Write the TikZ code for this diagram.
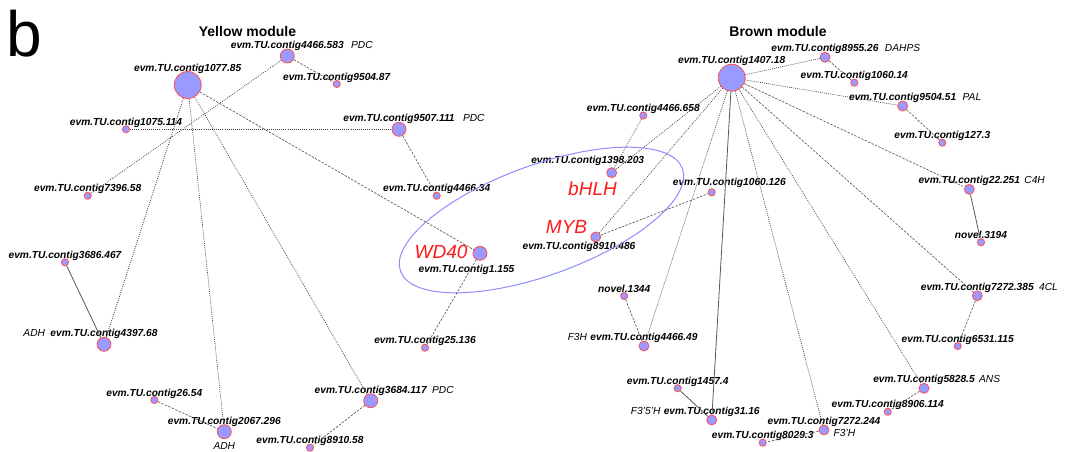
\documentclass[tikz,border=0pt]{standalone}
\usepackage{fontspec}
\setmainfont{Liberation Sans}
\usetikzlibrary{positioning}

\definecolor{nodefill}{RGB}{153,153,255}
\definecolor{noderim}{RGB}{255,80,80}
\definecolor{ringblue}{RGB}{140,140,255}
\definecolor{tfred}{RGB}{255,25,25}

\tikzset{
  gene/.style={circle, draw=noderim, fill=nodefill, line width=0.8pt, inner sep=0pt},
  gbig/.style={gene, minimum size=27pt},
  gmid/.style={gene, minimum size=14pt},
  gsml/.style={gene, minimum size=10pt},
  gtiny/.style={gene, minimum size=7.2pt},
  lbl/.style={font=\fontsize{10.2}{12}\selectfont\bfseries\itshape, inner sep=0pt, anchor=base},
  ann/.style={font=\fontsize{10.2}{12}\selectfont\itshape, inner sep=0pt},
  tf/.style={font=\fontsize{19}{22}\selectfont\itshape, text=tfred, inner sep=0pt},
  modtitle/.style={font=\fontsize{14}{16}\selectfont\bfseries, inner sep=0pt, anchor=base},
  dotlink/.style={draw=black!75, line width=0.7pt, dash pattern=on 0.9pt off 1.2pt},
  dashlink/.style={draw=black!70, line width=0.6pt, dash pattern=on 2.4pt off 1.4pt},
  solidlink/.style={draw=black!65, line width=0.8pt}
}

\begin{document}
\begin{tikzpicture}[x=1pt, y=-1pt]
	\useasboundingbox (0,0) rectangle (1074,451);
	\node[font=\fontsize{64}{70}\selectfont, inner sep=0pt, anchor=base west] (panel) at (6,56.5) {b};
	\node[modtitle] (ytitle) at (247.5,36) {Yellow module};
	\node[modtitle] (btitle) at (778,36) {Brown module};

	% yellow module
	\node[gbig, label={[lbl]above:evm.TU.contig1077.85}] (c1077) at (187.7,85) {};
	\node[gmid, label={[lbl,name=t4466a]above:evm.TU.contig4466.583}] (c4466a) at (287.3,56) {};
	\node[gtiny, label={[lbl]above:evm.TU.contig9504.87}] (c9504a) at (336.7,84) {};
	\node[gtiny, label={[lbl]above:evm.TU.contig1075.114}] (c1075) at (126,129.3) {};
	\node[gmid, label={[lbl,name=t9507]above:evm.TU.contig9507.111}] (c9507) at (399,129.3) {};
	\node[gtiny, label={[lbl]above:evm.TU.contig7396.58}] (c7396) at (87.7,195.7) {};
	\node[gtiny, label={[lbl]above:evm.TU.contig4466.34}] (c4466b) at (436.7,195.7) {};
	\node[gtiny, label={[lbl]above:evm.TU.contig3686.467}] (c3686) at (65,262.3) {};
	\node[gmid, label={[lbl,name=t4397]above:evm.TU.contig4397.68}] (c4397) at (104,344.3) {};
	\node[gtiny, label={[lbl]above:evm.TU.contig26.54}] (c26) at (154.3,400) {};
	\node[gmid, label={[lbl]above:evm.TU.contig2067.296}] (c2067) at (224.3,431.7) {};
	\node[gmid, label={[lbl,name=t3684]above:evm.TU.contig3684.117}] (c3684) at (370.7,400.7) {};
	\node[gtiny, label={[lbl]above:evm.TU.contig8910.58}] (c8910a) at (310,447.7) {};
	\node[gtiny, label={[lbl]above:evm.TU.contig25.136}] (c25) at (425,347.7) {};
	\node[gmid, label={[lbl,anchor=north,xshift=-13.5pt,yshift=-4pt]below:evm.TU.contig1.155}] (c1155) at (480,253.3) {};

	\node[ann, anchor=base west] (pdc1) at ([xshift=7pt]t4466a.base east) {PDC};
	\node[ann, anchor=base west] (pdc2) at ([xshift=8pt]t9507.base east) {PDC};
	\node[ann, anchor=base west] (pdc3) at ([xshift=5pt]t3684.base east) {PDC};
	\node[ann, anchor=base east] (adh1) at ([xshift=-5pt]t4397.base west) {ADH};
	\node[ann, anchor=north, yshift=-3.5pt] (adh2) at (c2067.south) {ADH};

	% brown module
	\node[gbig, label={[lbl]above:evm.TU.contig1407.18}] (c1407) at (731.7,77.7) {};
	\node[gsml, label={[lbl,name=t8955]above:evm.TU.contig8955.26}] (c8955) at (825,57.3) {};
	\node[gtiny, label={[lbl]above:evm.TU.contig1060.14}] (c1060a) at (854.3,82.7) {};
	\node[gsml, label={[lbl,name=t9504b]above:evm.TU.contig9504.51}] (c9504b) at (902.7,106) {};
	\node[gtiny, label={[lbl]above:evm.TU.contig127.3}] (c127) at (942.3,142.7) {};
	\node[gtiny, label={[lbl]above:evm.TU.contig4466.658}] (c4466c) at (643.3,115.5) {};
	\node[gsml, label={[lbl,xshift=-24pt,yshift=4pt]above:evm.TU.contig1398.203}] (c1398) at (611.7,172.7) {};
	\node[gtiny, label={[lbl,xshift=17.6pt,yshift=2.7pt]above:evm.TU.contig1060.126}] (c1060b) at (711.7,192.3) {};
	\node[gsml, label={[lbl,anchor=north,xshift=-16.7pt]below:evm.TU.contig8910.486}] (c8910b) at (595.7,237) {};
	\node[gtiny, label={[lbl]above:novel.1344}] (cn1344) at (624.2,296) {};
	\node[gsml, label={[lbl,name=t4466d]above:evm.TU.contig4466.49}] (c4466d) at (644,346) {};
	\node[gtiny, label={[lbl]above:evm.TU.contig1457.4}] (c1457) at (677.7,388.3) {};
	\node[gsml, label={[lbl,name=t31]above:evm.TU.contig31.16}] (c31) at (711.7,420) {};
	\node[gtiny, label={[lbl]above:evm.TU.contig8029.3}] (c8029) at (762.7,442.7) {};
	\node[gsml, label={[lbl]above:evm.TU.contig7272.244}] (c7272b) at (824,430) {};
	\node[gtiny, label={[lbl]above:evm.TU.contig8906.114}] (c8906) at (887.7,411.7) {};
	\node[gsml, label={[lbl,name=t5828]above:evm.TU.contig5828.5}] (c5828) at (924,388.3) {};
	\node[gtiny, label={[lbl]above:evm.TU.contig6531.115}] (c6531) at (957.7,346) {};
	\node[gsml, label={[lbl,name=t7272a]above:evm.TU.contig7272.385}] (c7272a) at (977.3,295.7) {};
	\node[gtiny, label={[lbl]above:novel.3194}] (cn3194) at (981,242.3) {};
	\node[gsml, label={[lbl,name=t22]above:evm.TU.contig22.251}] (c22) at (969.3,189.3) {};

	\node[ann, anchor=base west] (dahps) at ([xshift=6pt]t8955.base east) {DAHPS};
	\node[ann, anchor=base west] (pal) at ([xshift=6pt]t9504b.base east) {PAL};
	\node[ann, anchor=base west] (c4h) at ([xshift=4pt]t22.base east) {C4H};
	\node[ann, anchor=base west] (fourcl) at ([xshift=5pt]t7272a.base east) {4CL};
	\node[ann, anchor=base west] (ans) at ([xshift=4pt]t5828.base east) {ANS};
	\node[ann, anchor=base east] (f3h) at ([xshift=-3pt]t4466d.base west) {F3H};
	\node[ann, anchor=base east] (f35h) at ([xshift=-3pt]t31.base west) {F3'5'H};
	\node[ann, anchor=base west] (f3ph) at ([xshift=4pt,yshift=-6pt]c7272b.east) {F3'H};

	% transcription factors
	\draw[ringblue, line width=1pt, rotate around={20:(541.5,220)}] (541.5,220) ellipse (150pt and 55pt);
	\node[tf, anchor=base east] (wd40) at ([xshift=-5pt,yshift=-5pt]c1155.west) {WD40};
	\node[tf, anchor=base east] (myb) at ([xshift=-3pt,yshift=4pt]c8910b.west) {MYB};
	\node[tf, anchor=base east] (bhlh) at ([xshift=5.3pt,yshift=-22.3pt]c1398.center) {bHLH};

	% yellow links
	\draw[dotlink] (c1075) -- (c9507);
	\draw[dotlink] (c1077) -- (c4397);
	\draw[dotlink] (c1077) -- (c2067);
	\draw[dotlink] (c1077) -- (c3684);
	\draw[dashlink] (c1077) -- (c1155);
	\draw[dotlink] (c4466a) -- (c7396);
	\draw[dashlink] (c4466a) -- (c9504a);
	\draw[dashlink] (c9507) -- (c4466b);
	\draw[solidlink] (c3686) -- (c4397);
	\draw[dashlink] (c26) -- (c2067);
	\draw[dashlink] (c3684) -- (c8910a);
	\draw[dashlink] (c1155) -- (c25);

	% brown links
	\draw[dotlink] (c1407) -- (c8955);
	\draw[dashlink] (c8955) -- (c1060a);
	\draw[dotlink] (c1407) -- (c9504b);
	\draw[dashlink] (c9504b) -- (c127);
	\draw[dashlink] (c1407) -- (c22);
	\draw[solidlink] (c22) -- (cn3194);
	\draw[dashlink] (c1407) -- (c7272a);
	\draw[dashlink] (c7272a) -- (c6531);
	\draw[dotlink] (c1407) -- (c5828);
	\draw[dashlink] (c5828) -- (c8906);
	\draw[dotlink] (c1407) -- (c7272b);
	\draw[dashlink] (c7272b) -- (c8029);
	\draw[solidlink] (c1407) -- (c31);
	\draw[solidlink] (c1457) -- (c31);
	\draw[dotlink] (c1407) -- (c4466d);
	\draw[dashlink] (cn1344) -- (c4466d);
	\draw[dotlink] (c1407) -- (c8910b);
	\draw[dotlink] (c1407) -- (c1398);
	\draw[dotlink] (c4466c) -- (c1398);
	\draw[dashlink] (c8910b) -- (c1060b);
\end{tikzpicture}
\end{document}
